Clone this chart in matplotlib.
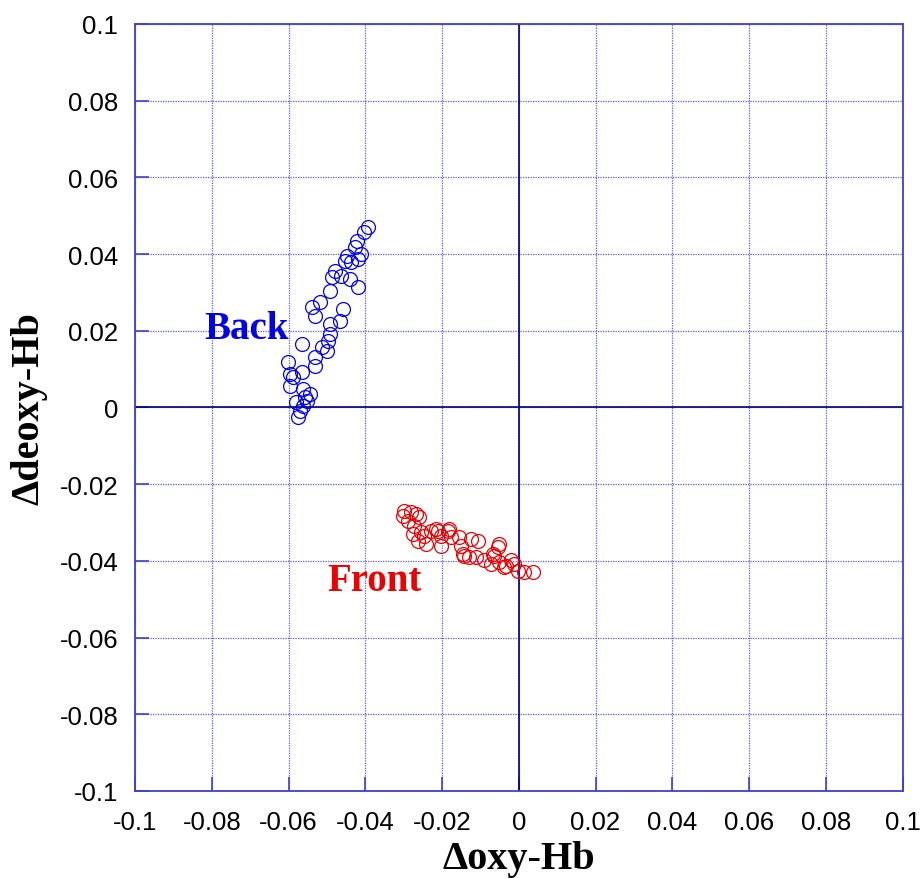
import matplotlib
matplotlib.use("Agg")
import matplotlib.pyplot as plt
import numpy as np

# Back (blue) points
back_x = [-0.0393, -0.0404, -0.0422, -0.0428, -0.0410, -0.0448, -0.0454, -0.0436,
          -0.0419, -0.0480, -0.0462, -0.0488, -0.0441, -0.0419, -0.0493, -0.0519,
          -0.0540, -0.0532, -0.0458, -0.0467, -0.0493, -0.0493, -0.0497, -0.0564,
          -0.0514, -0.0501, -0.0532, -0.0532, -0.0601, -0.0597, -0.0566, -0.0588,
          -0.0597, -0.0562, -0.0545, -0.0558, -0.0580, -0.0562, -0.0571, -0.0575,
          -0.0553]
back_y = [0.0470, 0.0458, 0.0435, 0.0418, 0.0400, 0.0396, 0.0383, 0.0379,
          0.0387, 0.0357, 0.0344, 0.0339, 0.0335, 0.0313, 0.0305, 0.0274,
          0.0261, 0.0239, 0.0257, 0.0226, 0.0218, 0.0192, 0.0174, 0.0166,
          0.0157, 0.0148, 0.0131, 0.0109, 0.0118, 0.0087, 0.0092, 0.0079,
          0.0057, 0.0048, 0.0035, 0.0027, 0.0014, 0.0005, -0.0008, -0.0026,
          0.0018]

# Front (red) points
front_x = [-0.0298, -0.0302, -0.0280, -0.0259, -0.0289, -0.0272, -0.0276, -0.0254,
           -0.0263, -0.0241, -0.0228, -0.0215, -0.0202, -0.0202, -0.0181, -0.0176,
           -0.0155, -0.0150, -0.0142, -0.0185, -0.0124, -0.0107, -0.0146, -0.0129,
           -0.0111, -0.0090, -0.0055, -0.0064, -0.0072, -0.0051, -0.0033, -0.0020,
           -0.0012, 0.0014, 0.0036, -0.0003, -0.0267, -0.0246, -0.0211, -0.0051,
           -0.0068, -0.0038]
front_y = [-0.0269, -0.0282, -0.0273, -0.0286, -0.0295, -0.0308, -0.0330, -0.0325,
           -0.0347, -0.0356, -0.0321, -0.0317, -0.0334, -0.0360, -0.0317, -0.0338,
           -0.0338, -0.0360, -0.0386, -0.0321, -0.0343, -0.0347, -0.0382, -0.0391,
           -0.0391, -0.0399, -0.0365, -0.0386, -0.0408, -0.0404, -0.0413, -0.0399,
           -0.0408, -0.0430, -0.0430, -0.0426, -0.0278, -0.0334, -0.0321, -0.0356,
           -0.0382, -0.0417]

ticks = [-0.1, -0.08, -0.06, -0.04, -0.02, 0, 0.02, 0.04, 0.06, 0.08, 0.1]
tick_labels = ["-0.1", "-0.08", "-0.06", "-0.04", "-0.02", "0", "0.02", "0.04", "0.06", "0.08", "0.1"]

fig = plt.figure(figsize=(9.21, 8.79), dpi=100)
ax = fig.add_axes([0.1466, 0.099, 0.8334, 0.8726])

edge = "#4040c8"
ax.set_xlim(-0.1, 0.1)
ax.set_ylim(-0.1, 0.1)
ax.set_xticks(ticks)
ax.set_yticks(ticks)
ax.set_xticklabels(tick_labels, fontsize=18.5, family="Liberation Sans")
ax.set_yticklabels(tick_labels, fontsize=18.5, family="Liberation Sans")
ax.tick_params(direction="in", length=10, width=1.2, color=edge, pad=14)
ax.tick_params(axis="y", pad=12)
for s in ax.spines.values():
    s.set_color(edge)
    s.set_linewidth(1.3)

ax.grid(True, color="#5a5ad8", linestyle=(0, (1, 1)), linewidth=0.9)
ax.axhline(0, color="#00007a", linewidth=1.2)
ax.axvline(0, color="#00007a", linewidth=1.2)

ax.plot(back_x, back_y, "o", mfc="none", mec="#0000ee", ms=10, mew=0.9, linestyle="none")
ax.plot(front_x, front_y, "o", mfc="none", mec="#ee0000", ms=10, mew=0.9, linestyle="none")

ax.text(-0.071, 0.0205, "Back", color="#0000ee", fontsize=28, fontweight="bold",
        family="Liberation Serif", ha="center", va="center")
ax.text(-0.0377, -0.045, "Front", color="#ee0000", fontsize=28, fontweight="bold",
        family="Liberation Serif", ha="center", va="center")

ax.set_xlabel("Δoxy-Hb", fontsize=29, fontweight="bold", family="Liberation Serif", labelpad=4)
ax.set_ylabel("Δdeoxy-Hb", fontsize=29, fontweight="bold", family="Liberation Serif", labelpad=9)

plt.savefig("out.png")
